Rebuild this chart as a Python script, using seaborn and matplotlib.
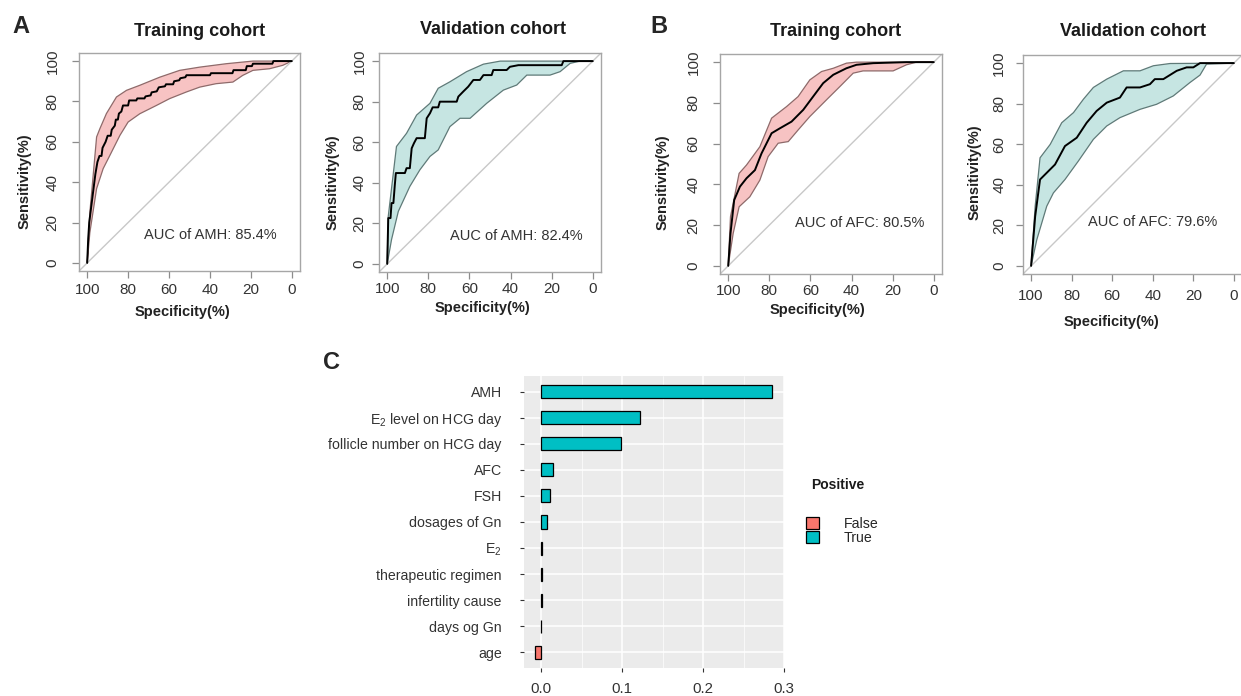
import numpy as np
import pandas as pd
import matplotlib
matplotlib.use('Agg')
import matplotlib.pyplot as plt
import seaborn as sns

# ---------------- ROC data (specificity %, sensitivity %) ----------------
# Panel A - AMH, training cohort
amh_tr_spec = [100, 99.5, 99, 98, 97, 96, 95, 94, 93, 92.5, 91, 90, 88.5, 88, 86.5, 86, 85, 84.5, 83.3, 82.5, 80,
               79.5, 76, 75.5, 72, 71.5, 69, 68.5, 66, 65, 62, 61.5, 58, 57.5, 55, 54.5, 52, 51.5, 40, 39.5, 29,
               28.5, 22.5, 22, 19.5, 19, 9.5, 9, 0]
amh_tr_sens = [0, 12, 20, 28, 36, 44, 50, 53, 53, 57, 60, 63, 63, 66, 68, 71, 71, 74, 75, 78, 78,
               80.5, 80.5, 81.5, 81.5, 82.5, 83, 84.5, 85, 87, 87.5, 88.5, 88.5, 90, 90.5, 91.5, 92, 93, 93, 94, 94,
               95.5, 95.5, 97.5, 97.5, 98.7, 98.7, 100, 100]
amh_tr_up_spec = [100, 98.7, 95.4, 93.8, 90.6, 85.7, 80.8, 74.3, 64.6, 54.8, 45, 32, 19, 0]
amh_tr_up_sens = [0, 25, 62.4, 66.5, 74, 82.2, 85.5, 88, 92, 95.4, 97, 98.7, 100, 100]
amh_tr_lo_spec = [100, 98.7, 95.4, 92.2, 88.9, 84, 80, 74.3, 66.2, 59.7, 51.5, 45, 37, 28.8, 24, 19, 10.9, 4.4, 0]
amh_tr_lo_sens = [0, 15, 36.8, 46.7, 53.3, 63.2, 69.8, 73.9, 78, 81.4, 84.7, 87.1, 88.8, 89.6, 92.9, 95.4, 96.2, 97.9, 100]

# Panel A - AMH, validation cohort
amh_va_spec = [100, 99.5, 98.4, 97.9, 97, 96.3, 95.8, 91.4, 90.6, 89, 88.1, 87, 85.7, 81.7, 80.8, 79.2, 77.9, 75.2,
               74.4, 66.2, 65.4, 63, 60.6, 58.1, 54.9, 53.2, 49.2, 48.4, 41.9, 40.3, 36.2, 15.1, 14.3, 0]
amh_va_sens = [0, 22.6, 22.6, 30, 30, 39, 44.8, 44.8, 47.2, 47.2, 57, 59.5, 62, 62, 71.8, 74.3, 77.2, 77.2,
               80, 80, 82.5, 85, 87.4, 90.7, 90.7, 93.1, 93.1, 95.6, 95.6, 97.2, 98, 98, 100, 100]
amh_va_up_spec = [100, 99.5, 95.5, 90.6, 85.7, 79.2, 75.2, 69.5, 61.4, 53.2, 45, 0]
amh_va_up_sens = [0, 23.4, 57.9, 64.4, 73.4, 79.2, 86.6, 89.8, 94.8, 98.5, 100, 100]
amh_va_lo_spec = [100, 97.9, 94.6, 89, 84.1, 79.2, 75.2, 69.5, 64.6, 59.7, 51.6, 43.5, 37, 32.1, 20.8, 15.9, 11, 6.2, 0]
amh_va_lo_sens = [0, 12, 25.9, 38.2, 46.4, 53, 56.2, 67.7, 71.8, 71.8, 79.2, 85.7, 88.2, 93.1, 93.1, 94.8, 98.9, 100, 100]

# Panel B - AFC, training cohort
afc_tr_spec = [100, 98.9, 97.1, 94.3, 91.1, 87, 83.8, 78.9, 74.9, 69.2, 63.5, 58.7, 53.8, 48.9, 42.5, 37.6, 29.5, 13.3, 0]
afc_tr_sens = [0, 15.9, 32.3, 38.9, 43, 47, 55.2, 65.1, 67.5, 70.8, 76.6, 83.1, 89.7, 93.8, 97, 98.7, 99.5, 100, 100]
afc_tr_up_spec = [100, 98.9, 94.7, 91.1, 84.6, 78.9, 71.6, 66, 60.3, 54.6, 48.9, 42.5, 37.6, 0]
afc_tr_up_sens = [0, 24.1, 45.4, 49.5, 58.5, 72.5, 78.2, 83.1, 91.3, 95.4, 97, 99.5, 100, 100]
afc_tr_lo_spec = [100, 97.6, 94.7, 89.5, 84.6, 80.6, 75.7, 70.8, 66, 60.3, 52.2, 45.7, 39.2, 34.4, 19.8, 13.3, 8.4, 0]
afc_tr_lo_sens = [0, 15.9, 29, 33.9, 42.1, 53.6, 60.2, 61, 66.7, 73.3, 81.5, 88, 94.6, 95.7, 95.7, 98.7, 100, 100]

# Panel B - AFC, validation cohort
afc_va_spec = [100, 98, 95.6, 92.3, 88.2, 83.3, 77.5, 72.6, 67.7, 62.7, 56.2, 52.9, 46.3, 41.4, 39, 34.8, 28.2,
               23.3, 20, 16.7, 0]
afc_va_sens = [0, 24.4, 42.6, 45.9, 50, 59.1, 63.2, 70.6, 76.4, 80.5, 83, 88, 88, 89.6, 92.1, 92.1, 96.2,
               97.9, 97.9, 100, 100]
afc_va_up_spec = [100, 98, 95.6, 90.6, 84.9, 79.1, 74.2, 69.3, 62.7, 54.5, 46.3, 39.7, 31.5, 0]
afc_va_up_sens = [0, 29.4, 53.3, 59.9, 70.6, 75.6, 82.2, 88, 92.1, 96.2, 96.2, 98.7, 99.8, 100]
afc_va_lo_spec = [100, 97.2, 92.3, 89, 83.3, 76.7, 69.3, 62.7, 56.2, 46.3, 38.1, 29.9, 21.7, 16.7, 13.5, 0]
afc_va_lo_sens = [0, 12.9, 29.4, 36, 42.6, 51.7, 62.4, 69, 73.1, 77.2, 79.7, 83.8, 90.4, 94.1, 99.5, 100]

# ---------------- Feature importance data (panel C) ----------------
features = ['AMH', 'E$_2$ level on HCG day', 'follicle number on HCG day', 'AFC', 'FSH', 'dosages of Gn',
            'E$_2$', 'therapeutic regimen', 'infertility cause', 'days og Gn', 'age']
importance = [0.2857, 0.1225, 0.0992, 0.0152, 0.0110, 0.0074, 0.0016, 0.0012, 0.0008, -0.0005, -0.0074]
positive = ['True', 'True', 'True', 'True', 'True', 'True', 'True', 'True', 'True', 'False', 'False']

# ---------------- style ----------------
sns.set_style('white')
plt.rcParams['font.family'] = ['Liberation Sans', 'DejaVu Sans']
plt.rcParams['mathtext.fontset'] = 'custom'
plt.rcParams['mathtext.rm'] = 'Liberation Sans'
plt.rcParams['mathtext.it'] = 'Liberation Sans:italic'
plt.rcParams['mathtext.bf'] = 'Liberation Sans:bold'

W, H = 1241, 696
fig = plt.figure(figsize=(W / 100, H / 100), dpi=100)
fig.patch.set_facecolor('white')


def add_ax(x0, y0, x1, y1):
    return fig.add_axes([x0 / W, 1 - y1 / H, (x1 - x0) / W, (y1 - y0) / H])


PINK_FILL, PINK_EDGE = '#F7C3C3', '#8E6A6A'
TEAL_FILL, TEAL_EDGE = '#C6E5E2', '#5F7A78'


def roc_panel(box, ms, mz, us, uz, ls, lz, fill, edge, auc_text, auc_xy, title, title_xy,
              ypad, xpad, ylab_xy, xlab_xy):
    ax = add_ax(*box)
    ax.fill(np.r_[us, ls[::-1]], np.r_[uz, lz[::-1]], facecolor=fill, edgecolor=edge, lw=0.9, zorder=1)
    ax.axline((100, 0), (0, 100), color='#C8C8C8', lw=1.0, zorder=2)
    sns.lineplot(x=ms, y=mz, sort=False, estimator=None, color='black', lw=1.4, ax=ax, zorder=3)
    ax.set_xlim(104, -4)
    ax.set_ylim(-4, 104)
    ax.set_xticks([100, 80, 60, 40, 20, 0])
    ax.set_yticks([0, 20, 40, 60, 80, 100])
    for sp in ax.spines.values():
        sp.set_color('#A6A6A6')
        sp.set_linewidth(1.0)
    ax.tick_params(axis='both', which='major', length=5, width=0.9, color='#8C8C8C',
                   labelsize=11, labelcolor='#333333', direction='out', bottom=True, left=True)
    ax.tick_params(axis='y', pad=ypad, labelrotation=90)
    ax.tick_params(axis='x', pad=xpad)
    for t in ax.get_yticklabels():
        t.set_va('center')
    ax.set_xlabel('Specificity(%)', fontsize=10.5, fontweight='bold', color='#222222')
    ax.set_ylabel('Sensitivity(%)', fontsize=10.5, fontweight='bold', color='#222222')
    ax.xaxis.label.set_va('center')
    ax.yaxis.label.set_va('center')
    ax.xaxis.set_label_coords(*xlab_xy)
    ax.yaxis.set_label_coords(*ylab_xy)
    ax.text(auc_xy[0], auc_xy[1], auc_text, ha='center', va='center', fontsize=10.5, color='#333333')
    fig.text(title_xy[0] / W, 1 - title_xy[1] / H, title, ha='center', va='center',
             fontsize=13, fontweight='bold', color='#1a1a1a')
    return ax


roc_panel((79, 53, 300, 271), amh_tr_spec, amh_tr_sens, amh_tr_up_spec, amh_tr_up_sens,
          amh_tr_lo_spec, amh_tr_lo_sens, PINK_FILL, PINK_EDGE, 'AUC of AMH: 85.4%', (40, 14),
          'Training cohort', (200, 31), ypad=9, xpad=3.5, ylab_xy=(-0.244, 0.41), xlab_xy=(0.466, -0.19))
roc_panel((379, 53, 601, 272), amh_va_spec, amh_va_sens, amh_va_up_spec, amh_va_up_sens,
          amh_va_lo_spec, amh_va_lo_sens, TEAL_FILL, TEAL_EDGE, 'AUC of AMH: 82.4%', (37, 14),
          'Validation cohort', (493, 30), ypad=4, xpad=2.2, ylab_xy=(-0.207, 0.41), xlab_xy=(0.468, -0.164))
roc_panel((720, 54, 942, 274), afc_tr_spec, afc_tr_sens, afc_tr_up_spec, afc_tr_up_sens,
          afc_tr_lo_spec, afc_tr_lo_sens, PINK_FILL, PINK_EDGE, 'AUC of AFC: 80.5%', (36, 21),
          'Training cohort', (836, 31), ypad=9, xpad=2.2, ylab_xy=(-0.257, 0.418), xlab_xy=(0.44, -0.164))
roc_panel((1023, 55, 1242, 274), afc_va_spec, afc_va_sens, afc_va_up_spec, afc_va_up_sens,
          afc_va_lo_spec, afc_va_lo_sens, TEAL_FILL, TEAL_EDGE, 'AUC of AFC: 79.6%', (40, 21.8),
          'Validation cohort', (1133, 32), ypad=7, xpad=5.5, ylab_xy=(-0.219, 0.466), xlab_xy=(0.406, -0.219))

# ---------------- Panel C ----------------
df = pd.DataFrame({'feature': features, 'importance': importance, 'Positive': positive})
axc = add_ax(524, 376, 784, 668)
axc.set_facecolor('#EBEBEB')
axc.set_axisbelow(True)
sns.barplot(data=df, x='importance', y='feature', hue='Positive', hue_order=['False', 'True'],
            palette={'False': '#F8766D', 'True': '#00BFC4'}, saturation=1, dodge=False, width=0.5,
            edgecolor='black', linewidth=0.9, orient='h', ax=axc, zorder=3)
axc.set_xlim(-0.0212, 0.2995)
axc.set_ylim(10.6, -0.6)
axc.set_xticks([0.0, 0.1, 0.2, 0.3])
axc.set_xticklabels(['0.0', '0.1', '0.2', '0.3'])
axc.set_xticks([0.05, 0.15, 0.25], minor=True)
axc.grid(True, which='major', color='white', lw=1.1)
axc.grid(True, which='minor', axis='x', color='white', lw=0.5)
for sp in axc.spines.values():
    sp.set_visible(False)
axc.tick_params(axis='both', which='major', length=3, width=0.8, color='#333333',
                labelcolor='#333333', bottom=True, left=True)
axc.tick_params(axis='y', labelsize=10.2, pad=13)
axc.tick_params(axis='x', labelsize=10.8, pad=7)
axc.tick_params(axis='both', which='minor', length=0)
axc.set_xlabel('')
axc.set_ylabel('')

handles, labels = axc.get_legend_handles_labels()
if axc.get_legend() is not None:
    axc.get_legend().remove()
for h in handles:
    h.set_edgecolor('black')
    h.set_linewidth(0.9)
fig.legend(handles, labels, loc='upper left', bbox_to_anchor=(806 / W, 1 - 517 / H),
           frameon=False, borderpad=0, borderaxespad=0, handlelength=0.95, handleheight=0.95,
           labelspacing=0.0, handletextpad=1.7, fontsize=10.2)
fig.text(811 / W, 1 - 485 / H, 'Positive', fontweight='bold', fontsize=10, va='center', color='#1a1a1a')

# Panel letters
fig.text(12 / W, 1 - 33 / H, 'A', fontsize=17, fontweight='bold', va='baseline')
fig.text(650 / W, 1 - 33 / H, 'B', fontsize=17, fontweight='bold', va='baseline')
fig.text(323 / W, 1 - 369 / H, 'C', fontsize=17, fontweight='bold', va='baseline')

fig.savefig('out.png', dpi=100, facecolor='white')
